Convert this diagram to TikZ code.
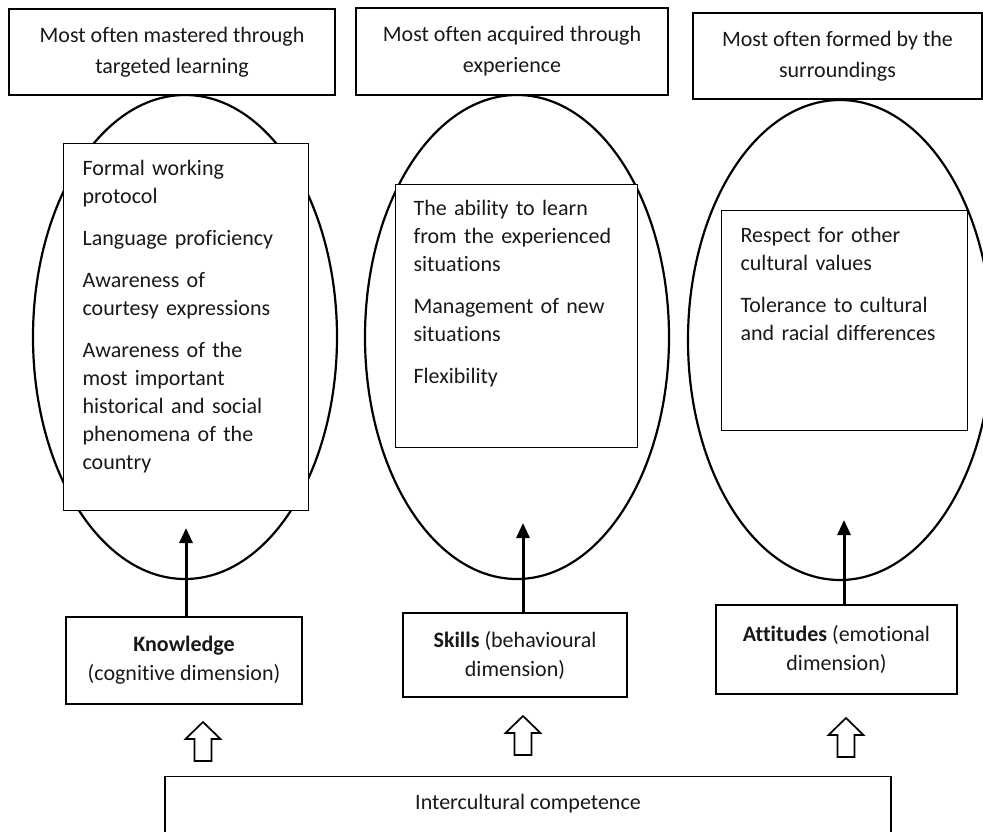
\documentclass[tikz,border=0pt]{standalone}
\usepackage{fontspec}
\setmainfont[Ligatures=NoCommon]{Carlito}
\usepackage{tikz}
\usetikzlibrary{shapes.geometric,arrows.meta,positioning,calc}

\begin{document}
\begin{tikzpicture}[
    x=1pt, y=-1pt,
    every node/.style={font=\fontsize{22}{28}\selectfont, text=black!90},
    topbox/.style={draw, line width=1.2pt, fill=white, align=center, inner sep=0pt,
                   font=\fontsize{22}{31}\selectfont},
    listbox/.style={draw, line width=1.2pt, fill=white, anchor=north west, align=left,
                    inner ysep=0pt},
    dimbox/.style={draw, line width=1.2pt, fill=white, align=center, inner sep=0pt,
                   font=\fontsize{22}{29}\selectfont},
    oval/.style={draw, ellipse, line width=2.2pt, minimum width=304pt, minimum height=484pt,
                 inner sep=0pt},
    arr/.style={line width=3pt, -{Triangle[length=15pt, width=13pt]}},
    pics/hollowup/.style={code={
        \draw[line width=1.7pt, line join=miter]
            (-8.5,0) -- (-8.5,-22) -- (-17.5,-22) -- (0,-39) -- (17.5,-22) -- (8.5,-22) -- (8.5,0) -- cycle;
    }}
]
    \useasboundingbox (0,0) rectangle (983,832);
    \clip (0,0) rectangle (983,832);

    \node[oval] (knowoval) at (185,337) {};
    \node[oval] (skilloval) at (517,337) {};
    \node[oval, minimum height=480pt] (attoval) at (840,340) {};

    \node[topbox, minimum width=326pt, minimum height=86pt] (topknow) at (172,52)
        {Most often mastered through\\targeted learning};
    \node[topbox, minimum width=312pt, minimum height=87pt] (topskill) at (512,51.5)
        {Most often acquired through\\experience};
    \node[topbox, minimum width=289pt, minimum height=86pt] (topatt) at (837.5,56)
        {Most often formed by the\\surroundings};

    \node[listbox, inner xsep=19pt, text width=207pt, text height=32pt, text depth=335pt]
        (knowlist) at (63,143)
        {Formal working\\protocol\\[14pt]Language proficiency\\[14pt]Awareness of\\courtesy expressions\\[14pt]Awareness of the\\most important\\historical and social\\phenomena of the\\country};
    \node[listbox, inner xsep=18pt, text width=206pt, text height=31pt, text depth=232pt]
        (skilllist) at (395,184)
        {The ability to learn\\from the experienced\\situations\\[14pt]Management of new\\situations\\[14pt]Flexibility};
    \node[listbox, inner xsep=19pt, text width=208pt, text height=32pt, text depth=188pt]
        (attlist) at (721,210)
        {Respect for other\\cultural values\\[14pt]Tolerance to cultural\\and racial differences};

    \node[dimbox, minimum width=236pt, minimum height=87pt] (know) at (184,660.5)
        {\textbf{Knowledge}\\(cognitive dimension)};
    \node[dimbox, minimum width=224pt, minimum height=84pt] (skill) at (515,655)
        {\textbf{Skills} (behavioural\\dimension)};
    \node[dimbox, minimum width=241pt, minimum height=89pt] (att) at (836.5,649.5)
        {\textbf{Attitudes} (emotional\\dimension)};

    \node[dimbox, anchor=north, minimum width=726pt, text height=33pt, text depth=60pt]
        (comp) at (528,776) {Intercultural competence};

    \coordinate (knowtip) at (186,528);
    \coordinate (skilltip) at (523,523);
    \coordinate (atttip) at (844,520);
    \draw[arr] (know.north -| knowtip) -- (knowtip);
    \draw[arr] (skill.north -| skilltip) -- (skilltip);
    \draw[arr] (att.north -| atttip) -- (atttip);

    \pic (knowup) at (203,761) {hollowup};
    \pic (skillup) at (523,755) {hollowup};
    \pic (attup) at (846,757) {hollowup};
\end{tikzpicture}
\end{document}
